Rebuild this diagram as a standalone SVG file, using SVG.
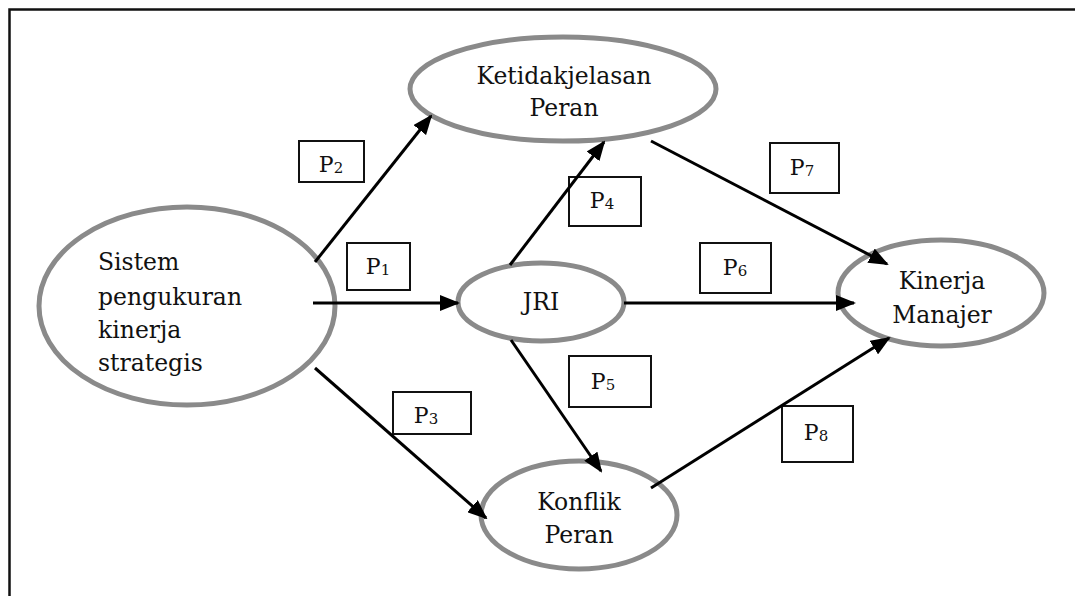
<svg xmlns="http://www.w3.org/2000/svg" width="1075" height="596" viewBox="0 0 1075 596">
<defs>
<style>
.node{fill:#fff;stroke:#8a8a8a;stroke-width:5}
.t{font-family:"DejaVu Serif","Liberation Serif",serif;font-size:23.5px;fill:#111}
.box{fill:#fff;stroke:#111;stroke-width:2}
.p{font-family:"DejaVu Serif","Liberation Serif",serif;font-size:22px;fill:#111}
.sub{font-size:15px}
.c{stroke:#000;stroke-width:3;fill:none;marker-end:url(#ah)}
</style>
<marker id="ah" markerUnits="userSpaceOnUse" markerWidth="20" markerHeight="16" refX="18" refY="8" orient="auto">
<path d="M0,0 L20,8 L0,16 Z" fill="#000"/>
</marker>
</defs>
<rect width="1075" height="596" fill="#fff"/>
<path d="M1075,9.5 H9.5 V596" fill="none" stroke="#111" stroke-width="2.5"/>
<g id="sistem">
<ellipse class="node" cx="187" cy="306" rx="148" ry="99"/>
<text class="t" x="98" y="270">Sistem</text>
<text class="t" x="98" y="305">pengukuran</text>
<text class="t" x="98" y="338">kinerja</text>
<text class="t" x="98" y="371">strategis</text>
</g>
<g id="ketidakjelasan">
<ellipse class="node" cx="563" cy="89" rx="153" ry="52"/>
<text class="t" x="564" y="84" text-anchor="middle">Ketidakjelasan</text>
<text class="t" x="564" y="116" text-anchor="middle">Peran</text>
</g>
<g id="jri">
<ellipse class="node" cx="541" cy="302" rx="83" ry="39"/>
<text class="t" x="541" y="310" text-anchor="middle">JRI</text>
</g>
<g id="kinerja">
<ellipse class="node" cx="941" cy="293" rx="103" ry="53"/>
<text class="t" x="942" y="289" text-anchor="middle">Kinerja</text>
<text class="t" x="942" y="323" text-anchor="middle">Manajer</text>
</g>
<g id="konflik">
<ellipse class="node" cx="579" cy="515" rx="98" ry="54"/>
<text class="t" x="579" y="510" text-anchor="middle">Konflik</text>
<text class="t" x="579" y="543" text-anchor="middle">Peran</text>
</g>
<g id="p1"><rect class="box" x="347" y="243" width="63" height="47"/><text class="p" x="378" y="274" text-anchor="middle">P<tspan class="sub" dy="1">1</tspan></text></g>
<g id="p2"><rect class="box" x="299" y="141" width="65" height="41"/><text class="p" x="331" y="172" text-anchor="middle">P<tspan class="sub" dy="1">2</tspan></text></g>
<g id="p3"><rect class="box" x="393" y="392" width="78" height="42"/><text class="p" x="426" y="423" text-anchor="middle">P<tspan class="sub" dy="1">3</tspan></text></g>
<g id="p4"><rect class="box" x="569" y="177" width="72" height="49"/><text class="p" x="602" y="208" text-anchor="middle">P<tspan class="sub" dy="1">4</tspan></text></g>
<g id="p5"><rect class="box" x="569" y="356" width="82" height="51"/><text class="p" x="603" y="389" text-anchor="middle">P<tspan class="sub" dy="1">5</tspan></text></g>
<g id="p6"><rect class="box" x="700" y="243" width="71" height="50"/><text class="p" x="735" y="275" text-anchor="middle">P<tspan class="sub" dy="1">6</tspan></text></g>
<g id="p7"><rect class="box" x="770" y="143" width="69" height="50"/><text class="p" x="802" y="175" text-anchor="middle">P<tspan class="sub" dy="1">7</tspan></text></g>
<g id="p8"><rect class="box" x="782" y="406" width="71" height="56"/><text class="p" x="816" y="440" text-anchor="middle">P<tspan class="sub" dy="1">8</tspan></text></g>
<g id="connectors">
<line class="c" x1="315" y1="262" x2="431" y2="116"/>
<line class="c" x1="313" y1="303" x2="458" y2="303"/>
<line class="c" x1="315" y1="368" x2="486" y2="518"/>
<line class="c" x1="510" y1="265" x2="604" y2="142"/>
<line class="c" x1="511" y1="340" x2="601" y2="471"/>
<line class="c" x1="624" y1="303" x2="854" y2="303"/>
<line class="c" x1="651" y1="141" x2="887" y2="264"/>
<line class="c" x1="651" y1="488" x2="889" y2="338"/>
</g>
</svg>
